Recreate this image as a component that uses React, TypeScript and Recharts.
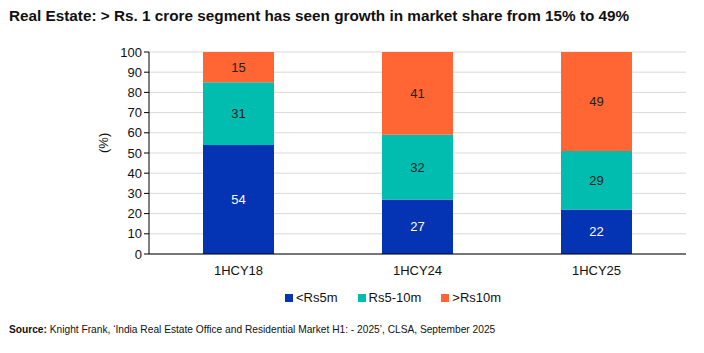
import React from 'react';
import { BarChart, Bar, XAxis, YAxis, CartesianGrid, LabelList } from 'recharts';

const categories = ['1HCY18', '1HCY24', '1HCY25'];
const below5m = [54, 27, 22];
const mid5to10m = [31, 32, 29];
const above10m = [15, 41, 49];
const yTicks = [0, 10, 20, 30, 40, 50, 60, 70, 80, 90, 100];

const series = [
  { key: 'low', name: '<Rs5m', color: '#0433B3', label: '#fff' },
  { key: 'mid', name: 'Rs5-10m', color: '#00BDB0', label: '#222' },
  { key: 'high', name: '>Rs10m', color: '#FF6633', label: '#222' },
];

const data = categories.map((cat, i) => ({
  cat,
  low: below5m[i],
  mid: mid5to10m[i],
  high: above10m[i],
}));

const FONT = '"Liberation Sans", Arial, sans-serif';

export default function App() {
  return (
    <div style={{ position: 'absolute', left: 0, top: 0, width: 704, height: 353, background: '#fff', fontFamily: FONT }}>
      <div style={{ position: 'absolute', left: 9, top: 7, fontSize: 15.3, fontWeight: 'bold', color: '#111', whiteSpace: 'nowrap' }}>
        Real Estate: &gt; Rs. 1 crore segment has seen growth in market share from 15% to 49%
      </div>
      <BarChart
        width={704}
        height={353}
        data={data}
        margin={{ top: 52, right: 18, bottom: 69, left: 109 }}
        barCategoryGap={54}
      >
        <CartesianGrid vertical={false} stroke="#d9d9d9" />
        <XAxis
          dataKey="cat"
          height={30}
          stroke="#000"
          tickLine={false}
          tick={{ fill: '#111', fontSize: 13, fontFamily: FONT }}
          tickMargin={6}
        />
        <YAxis
          width={40}
          domain={[0, 100]}
          ticks={yTicks}
          interval={0}
          stroke="#000"
          tickSize={5}
          tick={{ fill: '#111', fontSize: 13, fontFamily: FONT }}
          label={{ value: '(%)', angle: -90, position: 'insideLeft', offset: -6, fill: '#111', fontSize: 13, fontFamily: FONT }}
        />
        {series.map(s => (
          <Bar key={s.key} dataKey={s.key} name={s.name} stackId="a" fill={s.color} isAnimationActive={false}>
            <LabelList dataKey={s.key} position="center" fill={s.label} fontSize={13} fontFamily={FONT} />
          </Bar>
        ))}
      </BarChart>
      {/* legend */}
      <div style={{ position: 'absolute', left: 285, top: 290, display: 'flex', gap: 20, fontSize: 13, color: '#111' }}>
        {series.map(s => (
          <div key={s.key} style={{ display: 'flex', alignItems: 'center' }}>
            <span style={{ display: 'inline-block', width: 8, height: 8, background: s.color, marginRight: 3 }} />
            {s.name}
          </div>
        ))}
      </div>
      <div style={{ position: 'absolute', left: 9, top: 324, fontSize: 10.2, color: '#111', whiteSpace: 'nowrap' }}>
        <b>Source:</b> Knight Frank, ‘India Real Estate Office and Residential Market H1: - 2025’, CLSA, September 2025
      </div>
    </div>
  );
}
